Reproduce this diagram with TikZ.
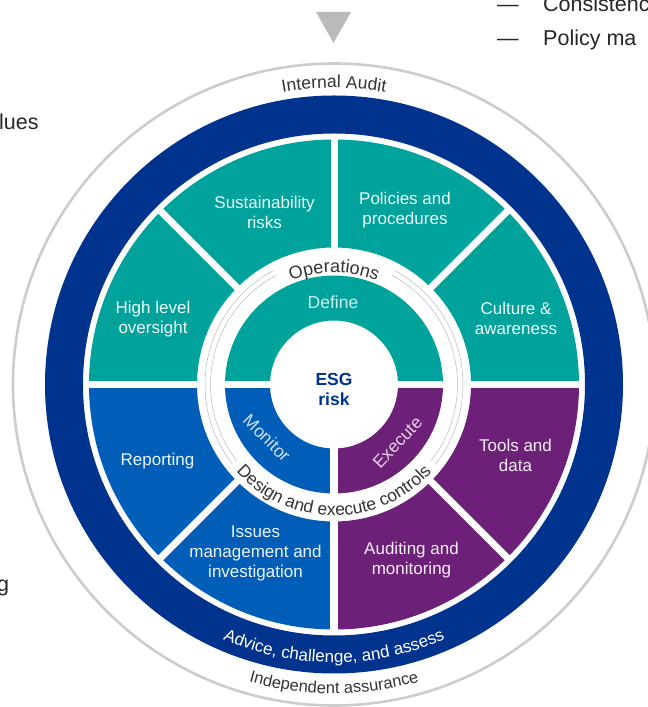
\documentclass[tikz,border=0pt]{standalone}
\usepackage{fontspec}
\setmainfont{Liberation Sans}
\usetikzlibrary{calc,decorations.text}
\definecolor{kteal}{HTML}{00A39B}
\definecolor{kblue}{HTML}{005EB8}
\definecolor{kpurple}{HTML}{6D2077}
\definecolor{knavy}{HTML}{00338D}
\definecolor{kgray}{HTML}{333333}
\newcommand\kLblFont{\fontsize{17}{20}\selectfont}
\newcommand\kRingFont{\fontsize{17.5}{20}\selectfont}
\begin{document}
\begin{tikzpicture}[x=1pt,y=1pt,
  lbl/.style={text=white, text opacity=0.93, font=\kLblFont, align=center},
  inlbl/.style={text=white, text opacity=0.8, font=\fontsize{17.5}{20}\selectfont},
  side/.style={text=black!85, font=\fontsize{21.5}{24}\selectfont, inner sep=0pt},
  divider/.style={white, line width=7.5pt},
  thinring/.style={black!28, line width=0.5pt}]
\useasboundingbox (0,0) rectangle (648,707);
\clip (0,0) rectangle (648,707);
\coordinate (C) at (334,322.5);

% side texts
\node[side, anchor=base west] (dash1) at (497,695) {—};
\node[side, anchor=base west] (cons) at (543,695) {Consistenc};
\node[side, anchor=base west] (dash2) at (497,661) {—};
\node[side, anchor=base west] (pol) at (543,661) {Policy ma};
\node[side, anchor=base west] (lues) at (-1,577) {lues};
\node[side, anchor=base west] (gg) at (-3,115) {g};

% triangle
\fill[black!27] (316,695) -- (351,695) -- (333.5,664) -- cycle;

% outer grey circle
\draw[black!20, line width=2.6pt] (C) circle[radius=321pt];
% navy ring
\fill[knavy, even odd rule] (C) circle[radius=289pt] (C) circle[radius=251pt];

% outer sectors
\fill[kteal] ($(C)+(0:245pt)$) arc[start angle=0, end angle=180, radius=245pt]
  -- ($(C)+(180:137pt)$) arc[start angle=180, end angle=0, radius=137pt] -- cycle;
\fill[kblue] ($(C)+(180:245pt)$) arc[start angle=180, end angle=270, radius=245pt]
  -- ($(C)+(270:137pt)$) arc[start angle=270, end angle=180, radius=137pt] -- cycle;
\fill[kpurple] ($(C)+(270:245pt)$) arc[start angle=270, end angle=360, radius=245pt]
  -- ($(C)+(0:137pt)$) arc[start angle=360, end angle=270, radius=137pt] -- cycle;

% inner sectors
\fill[kteal] ($(C)+(0:109pt)$) arc[start angle=0, end angle=180, radius=109pt]
  -- ($(C)+(180:64pt)$) arc[start angle=180, end angle=0, radius=64pt] -- cycle;
\fill[kblue] ($(C)+(180:109pt)$) arc[start angle=180, end angle=270, radius=109pt]
  -- ($(C)+(270:64pt)$) arc[start angle=270, end angle=180, radius=64pt] -- cycle;
\fill[kpurple] ($(C)+(270:109pt)$) arc[start angle=270, end angle=360, radius=109pt]
  -- ($(C)+(0:64pt)$) arc[start angle=360, end angle=270, radius=64pt] -- cycle;

% dividers
\draw[divider] ($(C)+(180:248pt)$) -- ($(C)+(0:248pt)$);
\draw[divider] (C) -- ($(C)+(270:248pt)$);
\foreach \a in {45,90,135,225,315}
  \draw[divider, line width=7pt] ($(C)+(\a:130pt)$) -- ($(C)+(\a:248pt)$);

% thin grey ring lines
\draw[thinring] ($(C)+(118:123.5pt)$) arc[start angle=118, end angle=218, radius=123.5pt];
\draw[thinring] ($(C)+(118:129pt)$) arc[start angle=118, end angle=218, radius=129pt];
\draw[thinring] ($(C)+(-38:123.5pt)$) arc[start angle=-38, end angle=62, radius=123.5pt];
\draw[thinring] ($(C)+(-38:129pt)$) arc[start angle=-38, end angle=62, radius=129pt];

% curved texts
\path[decorate, decoration={text along path, text align=center, text color=kgray,
  text={|\fontsize{17.5}{20}\selectfont|Internal Audit}}]
  ($(C)+(150:296.5pt)$) arc[start angle=150, end angle=30, radius=296.5pt];
\path[decorate, decoration={text along path, text align=center, text color=white,
  text={|\fontsize{17}{20}\selectfont|Advice{,} challenge{,} and assess}}]
  ($(C)+(210:278pt)$) arc[start angle=210, end angle=330, radius=278pt];
\path[decorate, decoration={text along path, text align=center, text color=kgray,
  text={|\fontsize{16.5}{20}\selectfont|Independent assurance}}]
  ($(C)+(210:309pt)$) arc[start angle=210, end angle=330, radius=309pt];
\path[decorate, decoration={text along path, text align=center, text color=kgray,
  text={|\fontsize{18}{20}\selectfont|Operations}}]
  ($(C)+(160:112pt)$) arc[start angle=160, end angle=20, radius=112pt];
\path[decorate, decoration={text along path, text align=center, text color=kgray,
  text={|\kRingFont|Design and execute controls}}]
  ($(C)+(190:131pt)$) arc[start angle=190, end angle=350, radius=131pt];

% outer labels
\node[lbl] (sus) at (264.5,495) {Sustainability\\risks};
\node[lbl] (pol2) at (405,497) {Policies and\\procedures};
\node[lbl] (hlo) at (153,388) {High level\\oversight};
\node[lbl] (cul) at (516,389) {Culture \&\\awareness};
\node[lbl] (rep) at (157.5,246) {Reporting};
\node[lbl] (iss) at (255.5,153.5) {Issues\\management and\\investigation};
\node[lbl] (too) at (515.5,251.5) {Tools and\\data};
\node[lbl] (aud) at (411.5,147) {Auditing and\\monitoring};

% inner labels
\node[inlbl] (def) at (333,404.5) {Define};
\node[inlbl, rotate=-45] (mon) at (267,269) {Monitor};
\node[inlbl, rotate=47] (exe) at (397.5,264.5) {Execute};

% centre
\node[text=knavy, font=\bfseries\fontsize{17.5}{20}\selectfont, align=center] (esg) at (334,318) {ESG\\risk};
\end{tikzpicture}
\end{document}
